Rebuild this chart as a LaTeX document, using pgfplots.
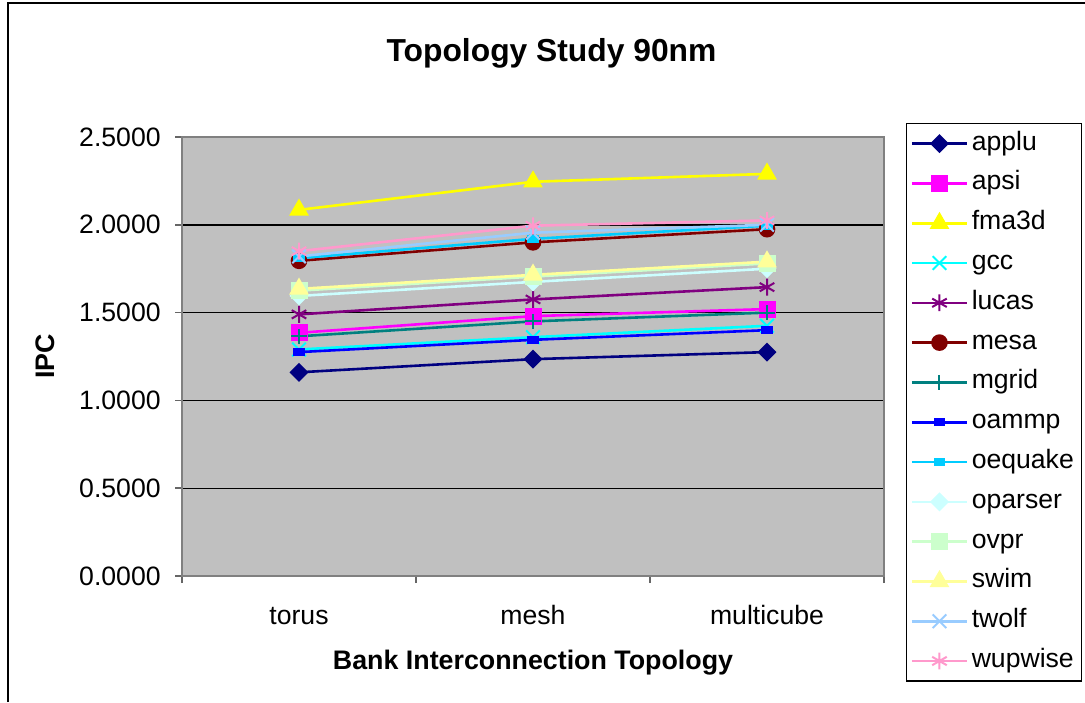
\documentclass[border=0pt]{standalone}
\usepackage{fontspec}
\setmainfont{Liberation Sans}
\usepackage{pgfplots}
\pgfplotsset{compat=1.18}

\definecolor{cApplu}{HTML}{000080}
\definecolor{cApsi}{HTML}{FF00FF}
\definecolor{cFma}{HTML}{FFFF00}
\definecolor{cGcc}{HTML}{00FFFF}
\definecolor{cLucas}{HTML}{800080}
\definecolor{cMesa}{HTML}{800000}
\definecolor{cMgrid}{HTML}{008080}
\definecolor{cOammp}{HTML}{0000FF}
\definecolor{cOequake}{HTML}{00CCFF}
\definecolor{cOparser}{HTML}{CCFFFF}
\definecolor{cOvpr}{HTML}{CCFFCC}
\definecolor{cSwim}{HTML}{FFFF99}
\definecolor{cTwolf}{HTML}{99CCFF}
\definecolor{cWup}{HTML}{FF99CC}
\definecolor{plotgray}{HTML}{C0C0C0}

\newcommand{\tickfont}{\fontsize{13.3pt}{15pt}\selectfont}
\newcommand{\labfont}{\fontsize{13.4pt}{15pt}\selectfont\bfseries}
\newcommand{\titlefont}{\fontsize{15.9pt}{19pt}\selectfont\bfseries}

\begin{document}
\begin{tikzpicture}
\useasboundingbox (0pt,0pt) rectangle (542.5pt,351pt);
\draw[black, line width=0.9pt] (4pt,0pt) -- (4pt,349.5pt) -- (545pt,349.5pt);
\node[font=\titlefont, anchor=base] at (275.75pt,320pt) {Topology Study 90nm};
\begin{axis}[
  at={(91pt,63pt)}, anchor=south west,
  scale only axis, width=351pt, height=219.5pt,
  xmin=-0.5, xmax=2.5, ymin=0, ymax=2.5,
  xtick={-0.5,0.5,1.5,2.5}, xticklabels={},
  extra x ticks={0,1,2},
  extra x tick labels={torus,mesh,multicube},
  extra x tick style={major tick length=0pt, xticklabel style={font=\tickfont, anchor=base, yshift=-24pt, inner sep=0pt}},
  ytick={0,0.5,1,1.5,2,2.5},
  tick pos=left,
  tick align=outside,
  major tick length=3.5pt,
  tick style={draw=black!60, line width=0.8pt},
  yticklabel style={font=\tickfont, anchor=east, inner sep=0pt, xshift=-7pt, /pgf/number format/.cd, fixed, fixed zerofill, precision=4, assume math mode=true},
  ymajorgrids,
  grid style={black, line width=0.7pt},
  axis background/.style={fill=plotgray},
  axis line style={draw=black!50, line width=0.9pt},
  xlabel={Bank Interconnection Topology},
  xlabel style={font=\labfont, at={(axis description cs:0.5,-0.2141)}, anchor=base},
  ylabel={IPC},
  ylabel style={font=\labfont, at={(axis description cs:-0.1952,0.5)}, anchor=center},
  legend cell align=left,
  legend image code/.code={\draw[mark repeat=2, mark phase=2, #1] plot coordinates {(0pt,0pt) (13.75pt,0pt) (27.5pt,0pt)};},
  legend style={at={(1.0313,1.0319)}, anchor=north west, draw=black, line width=0.7pt, fill=white, font=\tickfont, row sep=0pt, inner xsep=2pt, inner ysep=0pt,
    nodes={inner ysep=3.6pt, inner xsep=1.75pt, text height=9.6pt, text depth=3.1pt}},
  every axis plot/.append style={line width=1.3pt},
]
\addplot[cApplu, mark=square*, mark size=2.7pt, mark options={solid, rotate=45, fill=cApplu}] coordinates {(0,1.16) (1,1.235) (2,1.275)};
\addlegendentry{applu}
\addplot[cApsi, mark=square*, mark size=3.6pt, mark options={solid, fill=cApsi}] coordinates {(0,1.385) (1,1.48) (2,1.52)};
\addlegendentry{apsi}
\addplot[cFma, mark=triangle*, mark size=4.4pt, mark options={solid, fill=cFma}] coordinates {(0,2.085) (1,2.245) (2,2.29)};
\addlegendentry{fma3d}
\addplot[cGcc, mark=x, mark size=4.8pt, mark options={solid, line width=1pt}] coordinates {(0,1.29) (1,1.36) (2,1.425)};
\addlegendentry{gcc}
\addplot[cLucas, mark=asterisk, mark size=4.2pt, mark options={solid, line width=1pt}] coordinates {(0,1.49) (1,1.575) (2,1.645)};
\addlegendentry{lucas}
\addplot[cMesa, mark=*, mark size=3.5pt, mark options={solid, fill=cMesa}] coordinates {(0,1.795) (1,1.90) (2,1.975)};
\addlegendentry{mesa}
\addplot[cMgrid, mark=+, mark size=3.8pt, mark options={solid, line width=1pt}] coordinates {(0,1.365) (1,1.45) (2,1.50)};
\addlegendentry{mgrid}
\addplot[cOammp, mark=square*, mark size=1.3pt, mark options={solid, xscale=1.8, fill=cOammp}] coordinates {(0,1.275) (1,1.345) (2,1.40)};
\addlegendentry{oammp}
\addplot[cOequake, mark=square*, mark size=1.3pt, mark options={solid, xscale=1.8, fill=cOequake}] coordinates {(0,1.81) (1,1.92) (2,1.995)};
\addlegendentry{oequake}
\addplot[cOparser, mark=square*, mark size=2.7pt, mark options={solid, rotate=45, fill=cOparser}] coordinates {(0,1.595) (1,1.675) (2,1.75)};
\addlegendentry{oparser}
\addplot[cOvpr, mark=square*, mark size=3.6pt, mark options={solid, fill=cOvpr}] coordinates {(0,1.625) (1,1.705) (2,1.78)};
\addlegendentry{ovpr}
\addplot[cSwim, mark=triangle*, mark size=4.4pt, mark options={solid, fill=cSwim}] coordinates {(0,1.635) (1,1.715) (2,1.79)};
\addlegendentry{swim}
\addplot[cTwolf, mark=x, mark size=4.8pt, mark options={solid, line width=1pt}] coordinates {(0,1.82) (1,1.955) (2,2.00)};
\addlegendentry{twolf}
\addplot[cWup, mark=asterisk, mark size=4.2pt, mark options={solid, line width=1pt}] coordinates {(0,1.85) (1,1.995) (2,2.025)};
\addlegendentry{wupwise}
\end{axis}
\end{tikzpicture}
\end{document}
